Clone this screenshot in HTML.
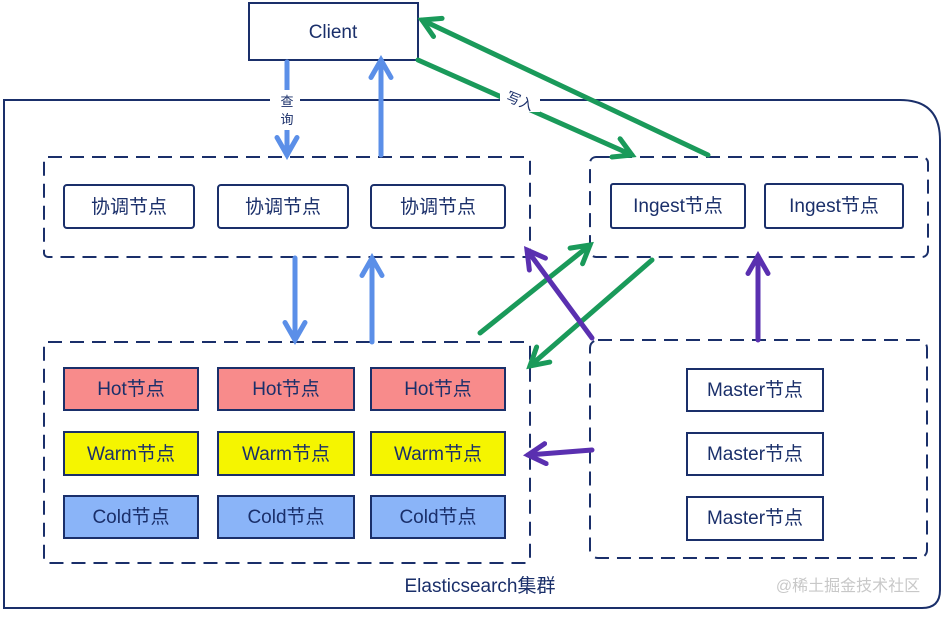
<!DOCTYPE html>
<html><head><meta charset="utf-8"><style>
body{margin:0;background:#fff;}
svg text{font-family:"Liberation Sans","Noto Sans CJK SC",sans-serif;fill:#1a2f6a;}
</style></head><body>
<svg width="951" height="613" viewBox="0 0 951 613" xmlns="http://www.w3.org/2000/svg">
<defs>
<marker id="ab" viewBox="0 0 10 10" refX="8" refY="5" markerWidth="5" markerHeight="5" orient="auto"><path d="M1,1 L8,5 L1,9" fill="none" stroke="#5b8fe8" stroke-width="2" stroke-linecap="round"/></marker>
<marker id="ag" viewBox="0 0 10 10" refX="8" refY="5" markerWidth="5" markerHeight="5" orient="auto"><path d="M1,1 L8,5 L1,9" fill="none" stroke="#1a9a5a" stroke-width="2" stroke-linecap="round"/></marker>
<marker id="ap" viewBox="0 0 10 10" refX="8" refY="5" markerWidth="5" markerHeight="5" orient="auto"><path d="M1,1 L8,5 L1,9" fill="none" stroke="#5a30b0" stroke-width="2" stroke-linecap="round"/></marker>
</defs>
<g fill="none" stroke="#1a2f6a" stroke-width="2">
<path d="M4,100 H900 Q940,100 940,140 V590 Q940,608 922,608 H4 Z"/>
<rect x="249" y="3" width="169" height="57" fill="#fff"/>
<g stroke-dasharray="14,8">
<rect x="44" y="157" width="486" height="100" rx="4"/>
<rect x="590" y="157" width="338" height="100" rx="6"/>
<rect x="44" y="342" width="486" height="221" rx="4"/>
<rect x="590" y="340" width="337" height="218" rx="8"/>
</g>
<rect x="64" y="185" width="130" height="43" rx="3"/>
<rect x="218" y="185" width="130" height="43" rx="3"/>
<rect x="371" y="185" width="134" height="43" rx="3"/>
<rect x="611" y="184" width="134" height="44" rx="2"/>
<rect x="765" y="184" width="138" height="44" rx="2"/>
<rect x="64" y="368" width="134" height="42" fill="#f88b8b"/>
<rect x="218" y="368" width="136" height="42" fill="#f88b8b"/>
<rect x="371" y="368" width="134" height="42" fill="#f88b8b"/>
<rect x="64" y="432" width="134" height="43" fill="#f5f500"/>
<rect x="218" y="432" width="136" height="43" fill="#f5f500"/>
<rect x="371" y="432" width="134" height="43" fill="#f5f500"/>
<rect x="64" y="496" width="134" height="42" fill="#8ab4f8"/>
<rect x="218" y="496" width="136" height="42" fill="#8ab4f8"/>
<rect x="371" y="496" width="134" height="42" fill="#8ab4f8"/>
<rect x="687" y="369" width="136" height="42"/>
<rect x="687" y="433" width="136" height="42"/>
<rect x="687" y="497" width="136" height="43"/>
</g>
<g stroke-width="5" fill="none" stroke-linecap="round">
<path d="M287,62 V155" stroke="#5b8fe8" marker-end="url(#ab)"/>
<path d="M381,155 V60" stroke="#5b8fe8" marker-end="url(#ab)"/>
<path d="M295,258 V340" stroke="#5b8fe8" marker-end="url(#ab)"/>
<path d="M372,342 V258" stroke="#5b8fe8" marker-end="url(#ab)"/>
<path d="M418,60 L632,155" stroke="#1a9a5a" marker-end="url(#ag)"/>
<path d="M708,155 L422,20" stroke="#1a9a5a" marker-end="url(#ag)"/>
<path d="M480,333 L590,245" stroke="#1a9a5a" marker-end="url(#ag)"/>
<path d="M652,260 L530,366" stroke="#1a9a5a" marker-end="url(#ag)"/>
<path d="M592,338 L527,250" stroke="#5a30b0" marker-end="url(#ap)"/>
<path d="M758,340 V256" stroke="#5a30b0" marker-end="url(#ap)"/>
<path d="M592,450 L528,455" stroke="#5a30b0" marker-end="url(#ap)"/>
</g>
<rect x="270" y="90" width="30" height="40" fill="#fff"/>
<rect x="500" y="88" width="40" height="24" fill="#fff"/>
<text x="287" y="106" font-size="13" text-anchor="middle">查</text>
<text x="287" y="124" font-size="13" text-anchor="middle">询</text>
<text x="520" y="106" font-size="14" text-anchor="middle" transform="rotate(22 520 101)">写入</text>
<g font-size="19" text-anchor="middle">
<text x="333" y="38">Client</text>
<text x="129" y="213">协调节点</text>
<text x="283" y="213">协调节点</text>
<text x="438" y="213">协调节点</text>
<text x="678" y="212">Ingest节点</text>
<text x="834" y="212">Ingest节点</text>
<text x="131" y="395">Hot节点</text>
<text x="286" y="395">Hot节点</text>
<text x="438" y="395">Hot节点</text>
<text x="131" y="460">Warm节点</text>
<text x="286" y="460">Warm节点</text>
<text x="438" y="460">Warm节点</text>
<text x="131" y="523">Cold节点</text>
<text x="286" y="523">Cold节点</text>
<text x="438" y="523">Cold节点</text>
<text x="755" y="396">Master节点</text>
<text x="755" y="460">Master节点</text>
<text x="755" y="524">Master节点</text>
<text x="480" y="592">Elasticsearch集群</text>
</g>
<text x="848" y="591" font-size="16" text-anchor="middle" style="fill:#c8c8c8">@稀土掘金技术社区</text>
</svg>
</body></html>
